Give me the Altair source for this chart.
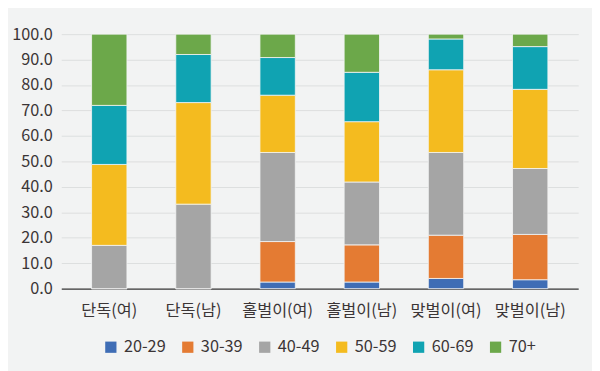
import altair as alt
import pandas as pd

categories = ["단독(여)", "단독(남)", "홀벌이(여)", "홀벌이(남)", "맞벌이(여)", "맞벌이(남)"]
ages = ["20-29", "30-39", "40-49", "50-59", "60-69", "70+"]
a20 = [0.0, 0.0, 2.6, 2.6, 4.0, 3.5]
a30 = [0.0, 0.0, 15.9, 14.6, 17.0, 17.8]
a40 = [17.0, 33.2, 35.0, 24.7, 32.5, 25.9]
a50 = [31.8, 39.9, 22.5, 23.7, 32.5, 31.1]
a60 = [23.2, 18.9, 14.8, 19.4, 12.1, 16.8]
a70 = [28.0, 8.0, 9.2, 15.0, 1.9, 4.9]
colors = ["#3f6db5", "#e47b33", "#a5a5a5", "#f4bb1f", "#10a3b2", "#6ca84a"]
y_ticks = [0, 10, 20, 30, 40, 50, 60, 70, 80, 90, 100]

series = [a20, a30, a40, a50, a60, a70]
rows = []
for k, (age, vals) in enumerate(zip(ages, series)):
    for cat, v in zip(categories, vals):
        rows.append({"cat": cat, "age": age, "value": v, "ord": k})
df = pd.DataFrame(rows)

FONT = "Noto Sans CJK KR"
TXT = "#3b3536"
FS = 16.5

chart = alt.Chart(df).mark_bar(stroke="#f4f5f5", strokeWidth=0.8).encode(
    x=alt.X("cat:N", sort=categories, title=None,
            scale=alt.Scale(paddingInner=0.58, paddingOuter=0.36),
            axis=alt.Axis(labelAngle=0, labelFont=FONT, labelFontSize=FS,
                          labelColor=TXT, ticks=False, domainColor="#3a3a3a",
                          domainWidth=1.5, labelPadding=14, grid=False)),
    y=alt.Y("value:Q", stack="zero", title=None,
            scale=alt.Scale(domain=[0, 100], nice=False),
            axis=alt.Axis(values=y_ticks, format=".1f", labelFont=FONT,
                          labelFontSize=FS, labelColor=TXT, ticks=False,
                          domain=False, labelPadding=9, gridColor="#dcdede",
                          gridWidth=1)),
    color=alt.Color("age:N", sort=ages,
                    scale=alt.Scale(domain=ages, range=colors),
                    legend=alt.Legend(title=None, orient="none", direction="horizontal",
                                      legendX=42, legendY=309, symbolType="square",
                                      symbolSize=130, symbolStrokeWidth=0,
                                      labelFont=FONT, labelFontSize=FS,
                                      labelColor=TXT, columnPadding=14,
                                      labelOffset=5)),
    order=alt.Order("ord:Q", sort="ascending"),
).properties(
    width=524, height=258,
    background="#f2f3f3",
    padding={"left": 54, "top": 24, "right": 14, "bottom": 81},
    autosize=alt.AutoSizeParams(type="none"),
).configure_view(stroke=None)

chart.save("out.html", embed_options={"renderer": "svg", "actions": False})
